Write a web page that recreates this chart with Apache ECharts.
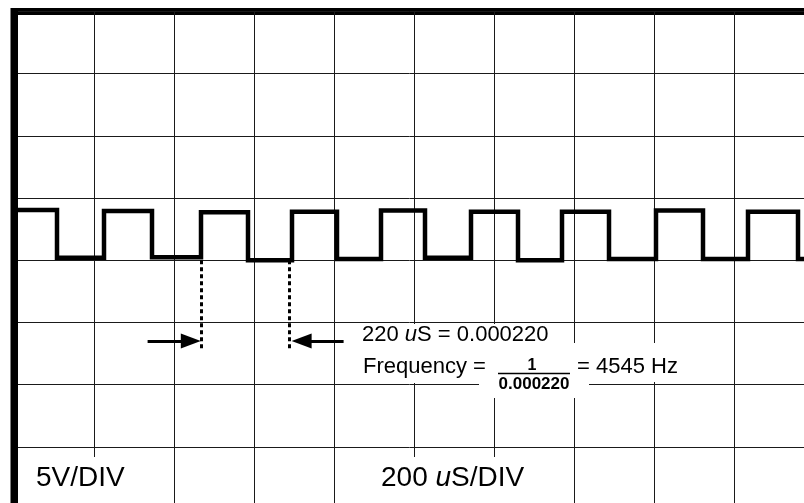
<!DOCTYPE html>
<html>
<head>
<meta charset="utf-8">
<script src="https://cdn.jsdelivr.net/npm/echarts@6/dist/echarts.min.js"></script>
<style>
  html, body { margin: 0; padding: 0; background: #fff; }
  #scope { width: 804px; height: 503px; }
</style>
</head>
<body>
<div id="scope"></div>
<script>
// Horizontal sweep: 200 uS per division, ten divisions
const timeMinUs = 0;
const timeMaxUs = 2000;
const timeDivUs = 200;

// Vertical scale: 5 V per division, eight divisions
const voltMin = 0;
const voltMax = 40;
const voltDiv = 5;

// Square-wave edge times (uS), alternating falling / rising, first edge falls
const edgeTimesUs = [107.5, 225, 345, 467.5, 585, 695, 807.5, 917.5, 1027.5,
                     1142.5, 1260, 1370, 1487.5, 1605, 1722.5, 1835, 1960];

// Level (V) held between consecutive edges
const levelsV = [24.05, 20.2, 23.95, 20.25, 23.85, 20.0, 23.9, 20.1, 24.0,
                 20.2, 23.9, 20.0, 23.9, 20.1, 24.0, 20.1, 23.9, 20.1];

// Period measurement
const periodUs = 220;
const periodStartUs = 469;
const cursorTopV = 20.0;
const cursorBottomV = 12.9;
const arrowV = 13.5;
const arrowLenUs = 135;

const scaleLabels = { volts: '5V/DIV', timeNum: '200 ', timeUnit: 'S/DIV' };

// ---------------------------------------------------------------
const periodEndUs = periodStartUs + periodUs;
const periodSec = (periodUs * 1e-6).toFixed(6);
const frequencyHz = Math.round(1 / (periodUs * 1e-6));

const wave = [];
levelsV.forEach((v, i) => {
  const t0 = i === 0 ? timeMinUs : edgeTimesUs[i - 1];
  const t1 = i === edgeTimesUs.length ? timeMaxUs : edgeTimesUs[i];
  wave.push([t0, v], [t1, v]);
});

const FONT = '"Liberation Sans", Arial, Helvetica, sans-serif';
const cursorStyle = { color: '#000', width: 3, type: [4, 3], cap: 'butt' };
const arrowStyle = { color: '#000', width: 3, type: 'solid', cap: 'butt' };
const head = { symbol: 'triangle', symbolSize: [15, 20] };

const chart = echarts.init(document.getElementById('scope'), null, { renderer: 'canvas' });

const gridLine = { show: true, lineStyle: { color: '#1a1a1a', width: 1 } };
const frameLine = { show: true, lineStyle: { color: '#000', width: 7, cap: 'square' } };

chart.setOption({
  animation: false,
  backgroundColor: '#fff',
  grid: {
    left: 14, top: 11.5, right: -10, bottom: -6,
    show: true, backgroundColor: '#fff',
    borderColor: '#000', borderWidth: 7,
    outerBoundsMode: 'none'
  },
  xAxis: {
    type: 'value', position: 'top', min: timeMinUs, max: timeMaxUs, interval: timeDivUs,
    axisLine: frameLine, axisTick: { show: false }, axisLabel: { show: false },
    splitLine: gridLine
  },
  yAxis: {
    type: 'value', min: voltMin, max: voltMax, interval: voltDiv,
    axisLine: frameLine, axisTick: { show: false }, axisLabel: { show: false },
    splitLine: gridLine
  },
  series: [{
    type: 'line',
    data: wave,
    showSymbol: false,
    silent: true,
    lineStyle: { color: '#000', width: 4.5, cap: 'butt', join: 'miter' },
    markLine: {
      silent: true,
      symbol: ['none', 'none'],
      label: { show: false },
      emphasis: { disabled: true },
      data: [
        [{ coord: [periodStartUs, cursorTopV], lineStyle: cursorStyle },
         { coord: [periodStartUs, cursorBottomV] }],
        [{ coord: [periodEndUs, cursorTopV], lineStyle: cursorStyle },
         { coord: [periodEndUs, cursorBottomV] }],
        [{ coord: [periodStartUs - arrowLenUs, arrowV], lineStyle: arrowStyle },
         Object.assign({ coord: [periodStartUs - 27, arrowV] }, head)],
        [{ coord: [periodEndUs + arrowLenUs, arrowV], lineStyle: arrowStyle },
         Object.assign({ coord: [periodEndUs + 30, arrowV] }, head)]
      ]
    }
  }],
  graphic: [
    // white panels that clear the graticule behind the captions
    { type: 'rect', z: 5, shape: { x: 356, y: 324, width: 202, height: 59 }, style: { fill: '#fff' } },
    { type: 'rect', z: 5, shape: { x: 479, y: 343, width: 110, height: 55 }, style: { fill: '#fff' } },
    { type: 'rect', z: 5, shape: { x: 589, y: 343, width: 100, height: 39 }, style: { fill: '#fff' } },
    { type: 'rect', z: 5, shape: { x: 28, y: 457, width: 110, height: 50 }, style: { fill: '#fff' } },
    { type: 'rect', z: 5, shape: { x: 374, y: 457, width: 158, height: 50 }, style: { fill: '#fff' } },

    { type: 'text', z: 6, x: 362, y: 335,
      style: { text: '{n|' + periodUs + ' }{i|u}{n|S = ' + periodSec + '}',
               textVerticalAlign: 'middle', fill: '#000',
               rich: { n: { fontSize: 22, fontFamily: FONT, fill: '#000' },
                       i: { fontSize: 22, fontFamily: FONT, fontStyle: 'italic', fill: '#000' } } } },
    { type: 'text', z: 6, x: 363, y: 367,
      style: { text: 'Frequency =', font: '22px ' + FONT, fill: '#000', textVerticalAlign: 'middle' } },
    { type: 'text', z: 6, x: 532, y: 366,
      style: { text: '1', font: 'bold 16px ' + FONT, fill: '#000', textAlign: 'center', textVerticalAlign: 'middle' } },
    { type: 'line', z: 6, shape: { x1: 498, y1: 373.5, x2: 570, y2: 373.5 },
      style: { stroke: '#000', lineWidth: 1.5 } },
    { type: 'text', z: 6, x: 534, y: 384,
      style: { text: periodSec, font: 'bold 17px ' + FONT, fill: '#000', textAlign: 'center', textVerticalAlign: 'middle' } },
    { type: 'text', z: 6, x: 577, y: 367,
      style: { text: '= ' + frequencyHz + ' Hz', font: '22px ' + FONT, fill: '#000', textVerticalAlign: 'middle' } },

    { type: 'text', z: 6, x: 36, y: 478,
      style: { text: scaleLabels.volts, font: '28px ' + FONT, fill: '#000', textVerticalAlign: 'middle' } },
    { type: 'text', z: 6, x: 381, y: 478,
      style: { text: '{n|' + scaleLabels.timeNum + '}{i|u}{n|' + scaleLabels.timeUnit + '}',
               textVerticalAlign: 'middle', fill: '#000',
               rich: { n: { fontSize: 28, fontFamily: FONT, fill: '#000' },
                       i: { fontSize: 28, fontFamily: FONT, fontStyle: 'italic', fill: '#000' } } } }
  ]
});
</script>
</body>
</html>
